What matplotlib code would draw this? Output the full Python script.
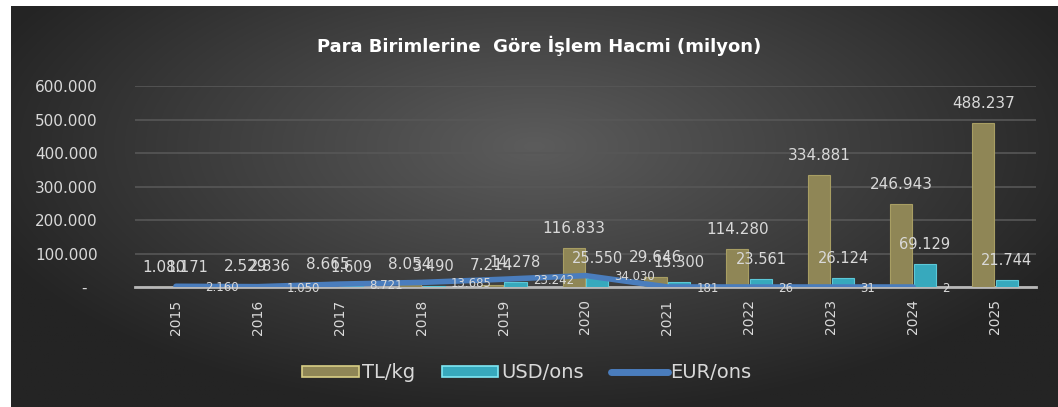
import numpy as np
import matplotlib
matplotlib.use("Agg")
import matplotlib.pyplot as plt
from matplotlib.patches import Patch
from matplotlib.lines import Line2D
from matplotlib.ticker import FuncFormatter

years = ["2015", "2016", "2017", "2018", "2019", "2020", "2021", "2022", "2023", "2024", "2025"]
tl_kg = [1080, 2529, 8665, 8054, 7214, 116833, 29646, 114280, 334881, 246943, 488237]
usd_ons = [1171, 2836, 1609, 3490, 14278, 25550, 15300, 23561, 26124, 69129, 21744]
eur_ons = [2160, 1050, 8721, 13685, 23242, 34030, 181, 26, 31, 2, np.nan]
series_names = ["TL/kg", "USD/ons", "EUR/ons"]
title = "Para Birimlerine  Göre İşlem Hacmi (milyon)"

TL_COLOR = "#8f8656"
USD_COLOR = "#37a9bd"
EUR_COLOR = "#4a7dbd"
TXT = "#d9d9d9"

W, H = 1058, 407
fig = plt.figure(figsize=(W / 100, H / 100), dpi=100, facecolor="white")

# background radial gradient panel
bg = fig.add_axes([11 / W, 0, (W - 11) / W, (H - 6) / H])
gy, gx = np.mgrid[0:1:300j, 0:1:800j]
r = np.sqrt(((gx - 0.5) / 0.75) ** 2 + ((gy - 0.35) / 0.9) ** 2)
r = np.clip(r / 0.75, 0, 1)
c0 = np.array([0x5c, 0x5c, 0x5c]) / 255
c1 = np.array([0x24, 0x24, 0x24]) / 255
img = c0[None, None, :] * (1 - r[..., None]) + c1[None, None, :] * r[..., None]
bg.imshow(img, aspect="auto", extent=[0, 1, 0, 1], origin="upper")
bg.set_axis_off()

ax = fig.add_axes([135 / W, (H - 287) / H, 901 / W, (287 - 86) / H])
ax.set_facecolor("none")
x = np.arange(len(years))
bw = 0.27
off = 0.145
ax.bar(x - off, tl_kg, width=bw, color=TL_COLOR, edgecolor="#a89e63", linewidth=0.8, zorder=3)
ax.bar(x + off, usd_ons, width=bw, color=USD_COLOR, edgecolor="#5cc8d8", linewidth=0.8, zorder=3)
ax.plot(x, eur_ons, color=EUR_COLOR, linewidth=4, solid_capstyle="round",
        solid_joinstyle="round", zorder=4)

def fmt(v):
    return f"{v:,.0f}".replace(",", ".")

for i in range(len(years)):
    ax.annotate(fmt(tl_kg[i]), (x[i] - off, tl_kg[i]), xytext=(0, 14),
                textcoords="offset points", ha="center", va="center",
                color=TXT, fontsize=11, zorder=6)
    ax.annotate(fmt(usd_ons[i]), (x[i] + off, usd_ons[i]), xytext=(0, 14),
                textcoords="offset points", ha="center", va="center",
                color=TXT, fontsize=10.5, zorder=6)
    if not np.isnan(eur_ons[i]):
        ax.annotate(fmt(eur_ons[i]), (x[i], eur_ons[i]), xytext=(21, -1),
                    textcoords="offset points", ha="left", va="center",
                    color=TXT, fontsize=8.5, zorder=6)

ax.set_xlim(-0.5, len(years) - 0.5)
ax.set_ylim(0, 600000)
ax.set_yticks(np.arange(0, 600001, 100000))
ax.yaxis.set_major_formatter(FuncFormatter(lambda v, p: "-  " if v == 0 else fmt(v)))
ax.set_xticks(x)
ax.set_xticklabels(years, rotation=90, color=TXT, fontsize=10)
ax.tick_params(axis="x", length=0, pad=9)
ax.tick_params(axis="y", length=0, pad=27, labelsize=11, labelcolor=TXT)
ax.grid(axis="y", color="#575757", linewidth=1.2, zorder=0)
ax.set_axisbelow(True)
for s in ["top", "right", "left"]:
    ax.spines[s].set_visible(False)
ax.spines["bottom"].set_color("#b8b8b8")
ax.spines["bottom"].set_linewidth(2)
ax.spines["bottom"].set_zorder(2)

fig.text(539 / W, 1 - 46 / H, title, ha="center", va="center",
         color="white", fontsize=13, fontweight="bold")

handles = [Patch(facecolor=TL_COLOR, edgecolor="#d9cf85", linewidth=1.2),
           Patch(facecolor=USD_COLOR, edgecolor="#7fe8f5", linewidth=1.2),
           Line2D([0], [0], color=EUR_COLOR, linewidth=5, solid_capstyle="round")]
leg = fig.legend(handles, series_names, loc="center", bbox_to_anchor=(527 / W, 1 - 373 / H),
                 ncol=3, frameon=False, fontsize=14, labelcolor=TXT,
                 handlelength=2.9, handleheight=0.55, handletextpad=0.15,
                 columnspacing=1.4)

fig.savefig("out.png", dpi=100, facecolor="white")
